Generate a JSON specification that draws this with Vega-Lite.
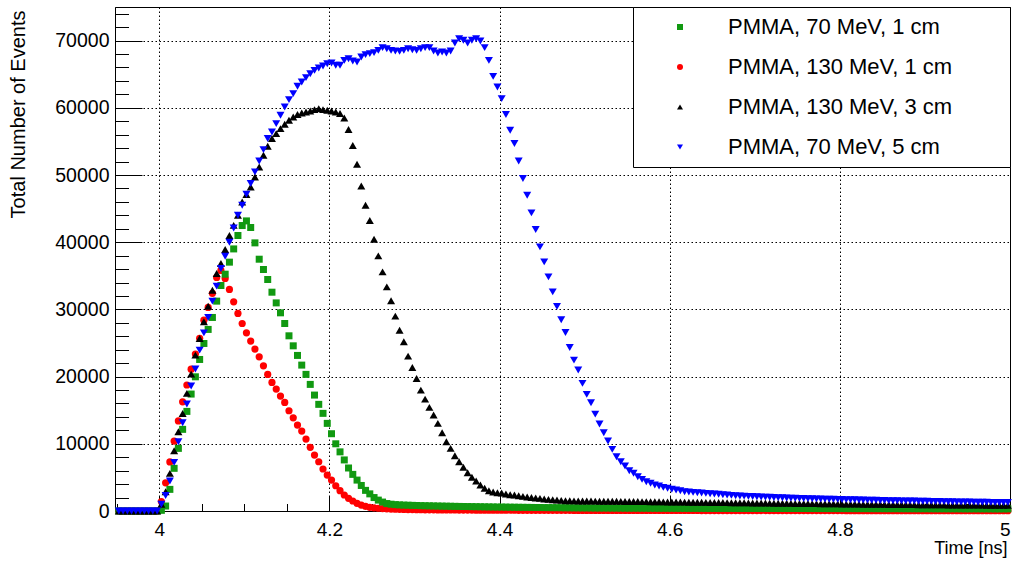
{
"$schema":"https://vega.github.io/schema/vega-lite/v6.json",
"width":895,"height":504,
"autosize":{"type":"none"},
"padding":{"left":115,"top":7,"right":3,"bottom":51},
"background":"white",
"config":{"view":{"stroke":"black","strokeWidth":1},
"axis":{"domainColor":"black","domainWidth":1,"tickColor":"black","tickWidth":1,"labelColor":"black","titleColor":"black","labelFont":"Liberation Sans","titleFont":"Liberation Sans","titleFontWeight":"normal","gridColor":"black","gridDash":[1.5,2.5],"gridOpacity":1,"gridWidth":1,"labelFlush":false,"labelOverlap":false}},
"resolve":{"axis":{"x":"independent","y":"independent"}},
"layer":[
{"data":{"values":[
{"t":3.9525,"v":0},{"t":3.9575,"v":0},{"t":3.9625,"v":0},{"t":3.9675,"v":0},{"t":3.9725,"v":0},{"t":3.9775,"v":0},{"t":3.9825,"v":0},{"t":3.9875,"v":0},{"t":3.9925,"v":0},{"t":3.9975,"v":0},
{"t":4.0025,"v":1400},{"t":4.0075,"v":4200},{"t":4.0125,"v":7300},{"t":4.0175,"v":10400},{"t":4.0225,"v":13400},{"t":4.0275,"v":16250},{"t":4.0325,"v":18750},{"t":4.0375,"v":21100},{"t":4.0425,"v":23350},{"t":4.0475,"v":25700},
{"t":4.0525,"v":28400},{"t":4.0575,"v":30300},{"t":4.0625,"v":32400},{"t":4.0675,"v":34750},{"t":4.0725,"v":35800},{"t":4.0775,"v":34600},{"t":4.0825,"v":32970},{"t":4.0875,"v":31120},{"t":4.0925,"v":29400},{"t":4.0975,"v":27900},
{"t":4.1025,"v":26520},{"t":4.1075,"v":25280},{"t":4.1125,"v":24090},{"t":4.1175,"v":22950},{"t":4.1225,"v":21610},{"t":4.1275,"v":20330},{"t":4.1325,"v":19140},{"t":4.1375,"v":18140},{"t":4.1425,"v":17100},{"t":4.1475,"v":16160},
{"t":4.1525,"v":14920},{"t":4.1575,"v":13870},{"t":4.1625,"v":12790},{"t":4.1675,"v":11900},{"t":4.1725,"v":10710},{"t":4.1775,"v":9470},{"t":4.1825,"v":8330},{"t":4.1875,"v":7330},{"t":4.1925,"v":6250},{"t":4.1975,"v":5350},
{"t":4.2025,"v":4610},{"t":4.2075,"v":3760},{"t":4.2125,"v":3020},{"t":4.2175,"v":2380},{"t":4.2225,"v":1890},{"t":4.2275,"v":1490},{"t":4.2325,"v":1150},{"t":4.2375,"v":890},{"t":4.2425,"v":700},{"t":4.2475,"v":550},
{"t":4.2525,"v":470},{"t":4.2575,"v":410},{"t":4.2625,"v":360},{"t":4.2675,"v":320},{"t":4.2725,"v":290},{"t":4.2775,"v":260},{"t":4.2825,"v":245},{"t":4.2875,"v":230},{"t":4.2925,"v":218},{"t":4.2975,"v":207},
{"t":4.3025,"v":198},{"t":4.3075,"v":190},{"t":4.3125,"v":183},{"t":4.3175,"v":176},{"t":4.3225,"v":170},{"t":4.3275,"v":165},{"t":4.3325,"v":160},{"t":4.3375,"v":155},{"t":4.3425,"v":150},{"t":4.3475,"v":146},
{"t":4.3525,"v":142},{"t":4.3575,"v":139},{"t":4.3625,"v":136},{"t":4.3675,"v":133},{"t":4.3725,"v":130},{"t":4.3775,"v":127},{"t":4.3825,"v":124},{"t":4.3875,"v":122},{"t":4.3925,"v":120},{"t":4.3975,"v":118},
{"t":4.4025,"v":116},{"t":4.4075,"v":114},{"t":4.4125,"v":112},{"t":4.4175,"v":110},{"t":4.4225,"v":108},{"t":4.4275,"v":107},{"t":4.4325,"v":105},{"t":4.4375,"v":104},{"t":4.4425,"v":102},{"t":4.4475,"v":101},
{"t":4.4525,"v":100},{"t":4.4575,"v":99},{"t":4.4625,"v":98},{"t":4.4675,"v":97},{"t":4.4725,"v":96},{"t":4.4775,"v":95},{"t":4.4825,"v":94},{"t":4.4875,"v":93},{"t":4.4925,"v":92},{"t":4.4975,"v":91},
{"t":4.5025,"v":90},{"t":4.5075,"v":89},{"t":4.5125,"v":88},{"t":4.5175,"v":88},{"t":4.5225,"v":87},{"t":4.5275,"v":86},{"t":4.5325,"v":85},{"t":4.5375,"v":85},{"t":4.5425,"v":84},{"t":4.5475,"v":83},
{"t":4.5525,"v":82},{"t":4.5575,"v":82},{"t":4.5625,"v":81},{"t":4.5675,"v":80},{"t":4.5725,"v":79},{"t":4.5775,"v":79},{"t":4.5825,"v":78},{"t":4.5875,"v":77},{"t":4.5925,"v":77},{"t":4.5975,"v":76},
{"t":4.6025,"v":75},{"t":4.6075,"v":75},{"t":4.6125,"v":74},{"t":4.6175,"v":73},{"t":4.6225,"v":73},{"t":4.6275,"v":72},{"t":4.6325,"v":72},{"t":4.6375,"v":71},{"t":4.6425,"v":70},{"t":4.6475,"v":70},
{"t":4.6525,"v":69},{"t":4.6575,"v":69},{"t":4.6625,"v":68},{"t":4.6675,"v":68},{"t":4.6725,"v":67},{"t":4.6775,"v":67},{"t":4.6825,"v":66},{"t":4.6875,"v":66},{"t":4.6925,"v":65},{"t":4.6975,"v":65},
{"t":4.7025,"v":64},{"t":4.7075,"v":64},{"t":4.7125,"v":63},{"t":4.7175,"v":63},{"t":4.7225,"v":62},{"t":4.7275,"v":62},{"t":4.7325,"v":61},{"t":4.7375,"v":61},{"t":4.7425,"v":60},{"t":4.7475,"v":60},
{"t":4.7525,"v":60},{"t":4.7575,"v":59},{"t":4.7625,"v":59},{"t":4.7675,"v":58},{"t":4.7725,"v":58},{"t":4.7775,"v":58},{"t":4.7825,"v":57},{"t":4.7875,"v":57},{"t":4.7925,"v":56},{"t":4.7975,"v":56},
{"t":4.8025,"v":56},{"t":4.8075,"v":55},{"t":4.8125,"v":55},{"t":4.8175,"v":55},{"t":4.8225,"v":54},{"t":4.8275,"v":54},{"t":4.8325,"v":54},{"t":4.8375,"v":53},{"t":4.8425,"v":53},{"t":4.8475,"v":53},
{"t":4.8525,"v":52},{"t":4.8575,"v":52},{"t":4.8625,"v":52},{"t":4.8675,"v":51},{"t":4.8725,"v":51},{"t":4.8775,"v":51},{"t":4.8825,"v":50},{"t":4.8875,"v":50},{"t":4.8925,"v":50},{"t":4.8975,"v":50},
{"t":4.9025,"v":49},{"t":4.9075,"v":49},{"t":4.9125,"v":49},{"t":4.9175,"v":48},{"t":4.9225,"v":48},{"t":4.9275,"v":48},{"t":4.9325,"v":48},{"t":4.9375,"v":47},{"t":4.9425,"v":47},{"t":4.9475,"v":47},
{"t":4.9525,"v":47},{"t":4.9575,"v":46},{"t":4.9625,"v":46},{"t":4.9675,"v":46},{"t":4.9725,"v":46},{"t":4.9775,"v":45},{"t":4.9825,"v":45},{"t":4.9875,"v":45},{"t":4.9925,"v":45},{"t":4.9975,"v":45}
]},
"mark":{"type":"point","filled":true,"size":52,"opacity":1,"strokeWidth":0},
"encoding":{
"x":{"field":"t","type":"quantitative","scale":{"domain":[3.948,5.0],"nice":false,"zero":false},
"axis":{"orient":"bottom","values":[4,4.2,4.4,4.6,4.8,5],"format":".1~f","tickSize":-15,"grid":true,"labelFlush":true,"labelFontSize":19,"labelPadding":24,"title":"Time [ns]","titleFontSize":18,"titleAnchor":"end","titleAlign":"right","titleBaseline":"middle","titleX":892,"titleY":37}},
"y":{"field":"v","type":"quantitative","scale":{"domain":[0,75000],"nice":false},
"axis":{"orient":"left","values":[0,10000,20000,30000,40000,50000,60000,70000],"format":"d","tickSize":-27,"grid":true,"labelFontSize":19.5,"labelPadding":33,"title":"Total Number of Events","titleFontSize":20,"titleAngle":270,"titleAnchor":"end","titleAlign":"right","titleBaseline":"middle","titleX":-97,"titleY":3}},
"color":{"datum":"PMMA, 130 MeV, 1 cm","type":"nominal","scale":{"domain":["PMMA, 70 MeV, 1 cm","PMMA, 130 MeV, 1 cm","PMMA, 130 MeV, 3 cm","PMMA, 70 MeV, 5 cm"],"range":["#119911","#ff0000","#000000","#0000ff"]},
"legend":{"orient":"none","legendX":518,"legendY":0,"title":"\u00a0","titleOrient":"right","titlePadding":49,"titleFontSize":22,"fillColor":"white","strokeColor":"black","padding":9,"rowPadding":18,"symbolSize":36,"symbolOffset":27,"labelOffset":37,"labelFont":"Liberation Sans","labelFontSize":22,"labelColor":"black","labelLimit":500}},
"shape":{"datum":"PMMA, 130 MeV, 1 cm","type":"nominal","scale":{"domain":["PMMA, 70 MeV, 1 cm","PMMA, 130 MeV, 1 cm","PMMA, 130 MeV, 3 cm","PMMA, 70 MeV, 5 cm"],"range":["square","circle","triangle-up","triangle-down"]},
"legend":{"orient":"none","legendX":518,"legendY":0,"title":"\u00a0","titleOrient":"right","titlePadding":49,"titleFontSize":22,"fillColor":"white","strokeColor":"black","padding":9,"rowPadding":18,"symbolSize":36,"symbolOffset":27,"labelOffset":37,"labelFont":"Liberation Sans","labelFontSize":22,"labelColor":"black","labelLimit":500}}
}},
{"data":{"values":[
{"t":3.9525,"v":0},{"t":3.9575,"v":0},{"t":3.9625,"v":0},{"t":3.9675,"v":0},{"t":3.9725,"v":0},{"t":3.9775,"v":0},{"t":3.9825,"v":0},{"t":3.9875,"v":0},{"t":3.9925,"v":0},{"t":3.9975,"v":0},
{"t":4.0025,"v":100},{"t":4.0075,"v":740},{"t":4.0125,"v":3220},{"t":4.0175,"v":6350},{"t":4.0225,"v":9320},{"t":4.0275,"v":12150},{"t":4.0325,"v":14820},{"t":4.0375,"v":17400},{"t":4.0425,"v":19970},{"t":4.0475,"v":22550},
{"t":4.0525,"v":24930},{"t":4.0575,"v":27020},{"t":4.0625,"v":28800},{"t":4.0675,"v":31230},{"t":4.0725,"v":33560},{"t":4.0775,"v":35240},{"t":4.0825,"v":37030},{"t":4.0875,"v":39000},{"t":4.0925,"v":41000},{"t":4.0975,"v":42480},
{"t":4.1025,"v":43170},{"t":4.1075,"v":42190},{"t":4.1125,"v":39900},{"t":4.1175,"v":37470},{"t":4.1225,"v":35940},{"t":4.1275,"v":34450},{"t":4.1325,"v":32560},{"t":4.1375,"v":30970},{"t":4.1425,"v":29490},{"t":4.1475,"v":27900},
{"t":4.1525,"v":26070},{"t":4.1575,"v":24580},{"t":4.1625,"v":23150},{"t":4.1675,"v":21710},{"t":4.1725,"v":20330},{"t":4.1775,"v":18840},{"t":4.1825,"v":17250},{"t":4.1875,"v":15870},{"t":4.1925,"v":14530},{"t":4.1975,"v":13040},
{"t":4.2025,"v":11500},{"t":4.2075,"v":10000},{"t":4.2125,"v":8800},{"t":4.2175,"v":7600},{"t":4.2225,"v":6400},{"t":4.2275,"v":5450},{"t":4.2325,"v":4600},{"t":4.2375,"v":3800},{"t":4.2425,"v":3070},{"t":4.2475,"v":2550},
{"t":4.2525,"v":2000},{"t":4.2575,"v":1620},{"t":4.2625,"v":1330},{"t":4.2675,"v":1110},{"t":4.2725,"v":1010},{"t":4.2775,"v":950},{"t":4.2825,"v":910},{"t":4.2875,"v":880},{"t":4.2925,"v":860},{"t":4.2975,"v":840},
{"t":4.3025,"v":820},{"t":4.3075,"v":800},{"t":4.3125,"v":785},{"t":4.3175,"v":770},{"t":4.3225,"v":755},{"t":4.3275,"v":740},{"t":4.3325,"v":728},{"t":4.3375,"v":716},{"t":4.3425,"v":704},{"t":4.3475,"v":692},
{"t":4.3525,"v":680},{"t":4.3575,"v":670},{"t":4.3625,"v":660},{"t":4.3675,"v":650},{"t":4.3725,"v":640},{"t":4.3775,"v":630},{"t":4.3825,"v":620},{"t":4.3875,"v":610},{"t":4.3925,"v":600},{"t":4.3975,"v":592},
{"t":4.4025,"v":584},{"t":4.4075,"v":576},{"t":4.4125,"v":568},{"t":4.4175,"v":560},{"t":4.4225,"v":552},{"t":4.4275,"v":545},{"t":4.4325,"v":538},{"t":4.4375,"v":531},{"t":4.4425,"v":524},{"t":4.4475,"v":518},
{"t":4.4525,"v":512},{"t":4.4575,"v":506},{"t":4.4625,"v":500},{"t":4.4675,"v":495},{"t":4.4725,"v":490},{"t":4.4775,"v":485},{"t":4.4825,"v":480},{"t":4.4875,"v":475},{"t":4.4925,"v":470},{"t":4.4975,"v":466},
{"t":4.5025,"v":462},{"t":4.5075,"v":458},{"t":4.5125,"v":455},{"t":4.5175,"v":452},{"t":4.5225,"v":449},{"t":4.5275,"v":446},{"t":4.5325,"v":443},{"t":4.5375,"v":440},{"t":4.5425,"v":437},{"t":4.5475,"v":434},
{"t":4.5525,"v":431},{"t":4.5575,"v":428},{"t":4.5625,"v":426},{"t":4.5675,"v":424},{"t":4.5725,"v":422},{"t":4.5775,"v":420},{"t":4.5825,"v":418},{"t":4.5875,"v":416},{"t":4.5925,"v":414},{"t":4.5975,"v":412},
{"t":4.6025,"v":410},{"t":4.6075,"v":408},{"t":4.6125,"v":406},{"t":4.6175,"v":404},{"t":4.6225,"v":402},{"t":4.6275,"v":400},{"t":4.6325,"v":398},{"t":4.6375,"v":396},{"t":4.6425,"v":394},{"t":4.6475,"v":392},
{"t":4.6525,"v":390},{"t":4.6575,"v":388},{"t":4.6625,"v":387},{"t":4.6675,"v":386},{"t":4.6725,"v":385},{"t":4.6775,"v":384},{"t":4.6825,"v":383},{"t":4.6875,"v":382},{"t":4.6925,"v":381},{"t":4.6975,"v":380},
{"t":4.7025,"v":379},{"t":4.7075,"v":378},{"t":4.7125,"v":377},{"t":4.7175,"v":376},{"t":4.7225,"v":375},{"t":4.7275,"v":374},{"t":4.7325,"v":373},{"t":4.7375,"v":372},{"t":4.7425,"v":371},{"t":4.7475,"v":370},
{"t":4.7525,"v":369},{"t":4.7575,"v":368},{"t":4.7625,"v":367},{"t":4.7675,"v":366},{"t":4.7725,"v":365},{"t":4.7775,"v":364},{"t":4.7825,"v":363},{"t":4.7875,"v":362},{"t":4.7925,"v":361},{"t":4.7975,"v":360},
{"t":4.8025,"v":359},{"t":4.8075,"v":358},{"t":4.8125,"v":357},{"t":4.8175,"v":356},{"t":4.8225,"v":355},{"t":4.8275,"v":354},{"t":4.8325,"v":353},{"t":4.8375,"v":352},{"t":4.8425,"v":351},{"t":4.8475,"v":350},
{"t":4.8525,"v":349},{"t":4.8575,"v":348},{"t":4.8625,"v":347},{"t":4.8675,"v":346},{"t":4.8725,"v":345},{"t":4.8775,"v":344},{"t":4.8825,"v":343},{"t":4.8875,"v":342},{"t":4.8925,"v":341},{"t":4.8975,"v":340},
{"t":4.9025,"v":339},{"t":4.9075,"v":338},{"t":4.9125,"v":337},{"t":4.9175,"v":336},{"t":4.9225,"v":335},{"t":4.9275,"v":334},{"t":4.9325,"v":333},{"t":4.9375,"v":332},{"t":4.9425,"v":331},{"t":4.9475,"v":330},
{"t":4.9525,"v":329},{"t":4.9575,"v":328},{"t":4.9625,"v":327},{"t":4.9675,"v":326},{"t":4.9725,"v":325},{"t":4.9775,"v":324},{"t":4.9825,"v":323},{"t":4.9875,"v":322},{"t":4.9925,"v":321},{"t":4.9975,"v":320}
]},
"mark":{"type":"point","filled":true,"size":49,"opacity":1,"strokeWidth":0},
"encoding":{
"x":{"field":"t","type":"quantitative","axis":null},
"y":{"field":"v","type":"quantitative","axis":null},
"color":{"datum":"PMMA, 70 MeV, 1 cm","type":"nominal"},
"shape":{"datum":"PMMA, 70 MeV, 1 cm","type":"nominal"}
}},
{"data":{"values":[
{"t":3.9525,"v":0},{"t":3.9575,"v":0},{"t":3.9625,"v":0},{"t":3.9675,"v":0},{"t":3.9725,"v":0},{"t":3.9775,"v":0},{"t":3.9825,"v":0},{"t":3.9875,"v":0},{"t":3.9925,"v":0},{"t":3.9975,"v":0},
{"t":4.0025,"v":1000},{"t":4.0075,"v":2870},{"t":4.0125,"v":5600},{"t":4.0175,"v":8970},{"t":4.0225,"v":11800},{"t":4.0275,"v":14520},{"t":4.0325,"v":17500},{"t":4.0375,"v":20370},{"t":4.0425,"v":23200},{"t":4.0475,"v":25680},
{"t":4.0525,"v":28150},{"t":4.0575,"v":30480},{"t":4.0625,"v":32860},{"t":4.0675,"v":35350},{"t":4.0725,"v":36830},{"t":4.0775,"v":38910},{"t":4.0825,"v":41000},{"t":4.0875,"v":42500},{"t":4.0925,"v":44000},{"t":4.0975,"v":45990},
{"t":4.1025,"v":47100},{"t":4.1075,"v":48220},{"t":4.1125,"v":49710},{"t":4.1175,"v":51200},{"t":4.1225,"v":52940},{"t":4.1275,"v":54280},{"t":4.1325,"v":55420},{"t":4.1375,"v":56160},{"t":4.1425,"v":56900},{"t":4.1475,"v":57550},
{"t":4.1525,"v":58140},{"t":4.1575,"v":58630},{"t":4.1625,"v":58990},{"t":4.1675,"v":59220},{"t":4.1725,"v":59370},{"t":4.1775,"v":59520},{"t":4.1825,"v":59730},{"t":4.1875,"v":59880},{"t":4.1925,"v":59730},{"t":4.1975,"v":59630},
{"t":4.2025,"v":59520},{"t":4.2075,"v":59370},{"t":4.2125,"v":59140},{"t":4.2175,"v":58480},{"t":4.2225,"v":56760},{"t":4.2275,"v":54380},{"t":4.2325,"v":51600},{"t":4.2375,"v":48370},{"t":4.2425,"v":45500},{"t":4.2475,"v":43230},
{"t":4.2525,"v":40450},{"t":4.2575,"v":37960},{"t":4.2625,"v":35580},{"t":4.2675,"v":33350},{"t":4.2725,"v":31300},{"t":4.2775,"v":29000},{"t":4.2825,"v":26910},{"t":4.2875,"v":25180},{"t":4.2925,"v":23050},{"t":4.2975,"v":21360},
{"t":4.3025,"v":19730},{"t":4.3075,"v":17990},{"t":4.3125,"v":16650},{"t":4.3175,"v":15420},{"t":4.3225,"v":14280},{"t":4.3275,"v":13040},{"t":4.3325,"v":11640},{"t":4.3375,"v":10310},{"t":4.3425,"v":9320},{"t":4.3475,"v":8220},
{"t":4.3525,"v":7330},{"t":4.3575,"v":6500},{"t":4.3625,"v":5700},{"t":4.3675,"v":5010},{"t":4.3725,"v":4460},{"t":4.3775,"v":3870},{"t":4.3825,"v":3380},{"t":4.3875,"v":3020},{"t":4.3925,"v":2830},{"t":4.3975,"v":2720},
{"t":4.4025,"v":2680},{"t":4.4075,"v":2530},{"t":4.4125,"v":2430},{"t":4.4175,"v":2380},{"t":4.4225,"v":2280},{"t":4.4275,"v":2180},{"t":4.4325,"v":2080},{"t":4.4375,"v":2000},{"t":4.4425,"v":1930},{"t":4.4475,"v":1880},
{"t":4.4525,"v":1780},{"t":4.4575,"v":1730},{"t":4.4625,"v":1680},{"t":4.4675,"v":1630},{"t":4.4725,"v":1580},{"t":4.4775,"v":1530},{"t":4.4825,"v":1515},{"t":4.4875,"v":1505},{"t":4.4925,"v":1495},{"t":4.4975,"v":1490},
{"t":4.5025,"v":1480},{"t":4.5075,"v":1475},{"t":4.5125,"v":1470},{"t":4.5175,"v":1462},{"t":4.5225,"v":1455},{"t":4.5275,"v":1450},{"t":4.5325,"v":1445},{"t":4.5375,"v":1440},{"t":4.5425,"v":1432},{"t":4.5475,"v":1425},
{"t":4.5525,"v":1420},{"t":4.5575,"v":1412},{"t":4.5625,"v":1405},{"t":4.5675,"v":1398},{"t":4.5725,"v":1390},{"t":4.5775,"v":1382},{"t":4.5825,"v":1375},{"t":4.5875,"v":1368},{"t":4.5925,"v":1360},{"t":4.5975,"v":1352},
{"t":4.6025,"v":1345},{"t":4.6075,"v":1338},{"t":4.6125,"v":1330},{"t":4.6175,"v":1322},{"t":4.6225,"v":1315},{"t":4.6275,"v":1308},{"t":4.6325,"v":1300},{"t":4.6375,"v":1292},{"t":4.6425,"v":1285},{"t":4.6475,"v":1278},
{"t":4.6525,"v":1270},{"t":4.6575,"v":1262},{"t":4.6625,"v":1255},{"t":4.6675,"v":1248},{"t":4.6725,"v":1240},{"t":4.6775,"v":1232},{"t":4.6825,"v":1225},{"t":4.6875,"v":1218},{"t":4.6925,"v":1210},{"t":4.6975,"v":1202},
{"t":4.7025,"v":1195},{"t":4.7075,"v":1188},{"t":4.7125,"v":1180},{"t":4.7175,"v":1172},{"t":4.7225,"v":1165},{"t":4.7275,"v":1158},{"t":4.7325,"v":1150},{"t":4.7375,"v":1143},{"t":4.7425,"v":1136},{"t":4.7475,"v":1129},
{"t":4.7525,"v":1122},{"t":4.7575,"v":1115},{"t":4.7625,"v":1108},{"t":4.7675,"v":1101},{"t":4.7725,"v":1094},{"t":4.7775,"v":1087},{"t":4.7825,"v":1080},{"t":4.7875,"v":1073},{"t":4.7925,"v":1066},{"t":4.7975,"v":1059},
{"t":4.8025,"v":1052},{"t":4.8075,"v":1045},{"t":4.8125,"v":1038},{"t":4.8175,"v":1031},{"t":4.8225,"v":1024},{"t":4.8275,"v":1017},{"t":4.8325,"v":1010},{"t":4.8375,"v":1004},{"t":4.8425,"v":998},{"t":4.8475,"v":992},
{"t":4.8525,"v":986},{"t":4.8575,"v":980},{"t":4.8625,"v":974},{"t":4.8675,"v":968},{"t":4.8725,"v":962},{"t":4.8775,"v":956},{"t":4.8825,"v":950},{"t":4.8875,"v":945},{"t":4.8925,"v":940},{"t":4.8975,"v":935},
{"t":4.9025,"v":930},{"t":4.9075,"v":925},{"t":4.9125,"v":920},{"t":4.9175,"v":915},{"t":4.9225,"v":910},{"t":4.9275,"v":905},{"t":4.9325,"v":900},{"t":4.9375,"v":896},{"t":4.9425,"v":892},{"t":4.9475,"v":888},
{"t":4.9525,"v":884},{"t":4.9575,"v":880},{"t":4.9625,"v":876},{"t":4.9675,"v":872},{"t":4.9725,"v":868},{"t":4.9775,"v":864},{"t":4.9825,"v":860},{"t":4.9875,"v":856},{"t":4.9925,"v":852},{"t":4.9975,"v":848}
]},
"mark":{"type":"point","filled":true,"size":64,"opacity":1,"strokeWidth":0},
"encoding":{
"x":{"field":"t","type":"quantitative","axis":null},
"y":{"field":"v","type":"quantitative","axis":null},
"color":{"datum":"PMMA, 130 MeV, 3 cm","type":"nominal"},
"shape":{"datum":"PMMA, 130 MeV, 3 cm","type":"nominal"}
}},
{"data":{"values":[
{"t":3.9525,"v":0},{"t":3.9575,"v":0},{"t":3.9625,"v":0},{"t":3.9675,"v":0},{"t":3.9725,"v":0},{"t":3.9775,"v":0},{"t":3.9825,"v":0},{"t":3.9875,"v":0},{"t":3.9925,"v":0},{"t":3.9975,"v":0},
{"t":4.0025,"v":1000},{"t":4.0075,"v":2300},{"t":4.0125,"v":4460},{"t":4.0175,"v":7240},{"t":4.0225,"v":10310},{"t":4.0275,"v":13130},{"t":4.0325,"v":15910},{"t":4.0375,"v":18590},{"t":4.0425,"v":21120},{"t":4.0475,"v":23940},
{"t":4.0525,"v":26510},{"t":4.0575,"v":28800},{"t":4.0625,"v":31230},{"t":4.0675,"v":33460},{"t":4.0725,"v":36090},{"t":4.0775,"v":37920},{"t":4.0825,"v":40000},{"t":4.0875,"v":42100},{"t":4.0925,"v":44000},{"t":4.0975,"v":45500},
{"t":4.1025,"v":47140},{"t":4.1075,"v":48730},{"t":4.1125,"v":50460},{"t":4.1175,"v":52090},{"t":4.1225,"v":53780},{"t":4.1275,"v":55420},{"t":4.1325,"v":56400},{"t":4.1375,"v":57650},{"t":4.1425,"v":58890},{"t":4.1475,"v":60120},
{"t":4.1525,"v":61220},{"t":4.1575,"v":62110},{"t":4.1625,"v":63200},{"t":4.1675,"v":63840},{"t":4.1725,"v":64490},{"t":4.1775,"v":65080},{"t":4.1825,"v":65570},{"t":4.1875,"v":65920},{"t":4.1925,"v":66220},{"t":4.1975,"v":66560},
{"t":4.2025,"v":66660},{"t":4.2075,"v":66320},{"t":4.2125,"v":66320},{"t":4.2175,"v":67060},{"t":4.2225,"v":67310},{"t":4.2275,"v":66960},{"t":4.2325,"v":66810},{"t":4.2375,"v":67560},{"t":4.2425,"v":67910},{"t":4.2475,"v":68060},
{"t":4.2525,"v":68210},{"t":4.2575,"v":68550},{"t":4.2625,"v":68950},{"t":4.2675,"v":68800},{"t":4.2725,"v":68550},{"t":4.2775,"v":68450},{"t":4.2825,"v":68400},{"t":4.2875,"v":68550},{"t":4.2925,"v":68800},{"t":4.2975,"v":68650},
{"t":4.3025,"v":68550},{"t":4.3075,"v":68800},{"t":4.3125,"v":68950},{"t":4.3175,"v":68950},{"t":4.3225,"v":68450},{"t":4.3275,"v":68150},{"t":4.3325,"v":68300},{"t":4.3375,"v":68150},{"t":4.3425,"v":68450},{"t":4.3475,"v":69640},
{"t":4.3525,"v":70280},{"t":4.3575,"v":70040},{"t":4.3625,"v":69640},{"t":4.3675,"v":70040},{"t":4.3725,"v":70280},{"t":4.3775,"v":69930},{"t":4.3825,"v":68950},{"t":4.3875,"v":67060},{"t":4.3925,"v":64680},{"t":4.3975,"v":63090},
{"t":4.4025,"v":61370},{"t":4.4075,"v":58990},{"t":4.4125,"v":56650},{"t":4.4175,"v":54680},{"t":4.4225,"v":52090},{"t":4.4275,"v":49470},{"t":4.4325,"v":46990},{"t":4.4375,"v":44360},{"t":4.4425,"v":41890},{"t":4.4475,"v":39300},
{"t":4.4525,"v":37070},{"t":4.4575,"v":34840},{"t":4.4625,"v":32610},{"t":4.4675,"v":30450},{"t":4.4725,"v":28450},{"t":4.4775,"v":26570},{"t":4.4825,"v":24340},{"t":4.4875,"v":22450},{"t":4.4925,"v":20970},{"t":4.4975,"v":18990},
{"t":4.5025,"v":17350},{"t":4.5075,"v":16100},{"t":4.5125,"v":14420},{"t":4.5175,"v":12940},{"t":4.5225,"v":11640},{"t":4.5275,"v":10410},{"t":4.5325,"v":9170},{"t":4.5375,"v":8070},{"t":4.5425,"v":7330},{"t":4.5475,"v":6690},
{"t":4.5525,"v":5990},{"t":4.5575,"v":5610},{"t":4.5625,"v":5100},{"t":4.5675,"v":4710},{"t":4.5725,"v":4360},{"t":4.5775,"v":4120},{"t":4.5825,"v":3870},{"t":4.5875,"v":3720},{"t":4.5925,"v":3520},{"t":4.5975,"v":3380},
{"t":4.6025,"v":3230},{"t":4.6075,"v":3120},{"t":4.6125,"v":3020},{"t":4.6175,"v":2870},{"t":4.6225,"v":2820},{"t":4.6275,"v":2770},{"t":4.6325,"v":2720},{"t":4.6375,"v":2670},{"t":4.6425,"v":2620},{"t":4.6475,"v":2580},
{"t":4.6525,"v":2530},{"t":4.6575,"v":2480},{"t":4.6625,"v":2430},{"t":4.6675,"v":2380},{"t":4.6725,"v":2330},{"t":4.6775,"v":2280},{"t":4.6825,"v":2240},{"t":4.6875,"v":2210},{"t":4.6925,"v":2180},{"t":4.6975,"v":2150},
{"t":4.7025,"v":2120},{"t":4.7075,"v":2090},{"t":4.7125,"v":2065},{"t":4.7175,"v":2040},{"t":4.7225,"v":2015},{"t":4.7275,"v":1990},{"t":4.7325,"v":1965},{"t":4.7375,"v":1940},{"t":4.7425,"v":1920},{"t":4.7475,"v":1900},
{"t":4.7525,"v":1880},{"t":4.7575,"v":1860},{"t":4.7625,"v":1840},{"t":4.7675,"v":1820},{"t":4.7725,"v":1800},{"t":4.7775,"v":1785},{"t":4.7825,"v":1770},{"t":4.7875,"v":1755},{"t":4.7925,"v":1740},{"t":4.7975,"v":1725},
{"t":4.8025,"v":1710},{"t":4.8075,"v":1695},{"t":4.8125,"v":1680},{"t":4.8175,"v":1665},{"t":4.8225,"v":1650},{"t":4.8275,"v":1635},{"t":4.8325,"v":1620},{"t":4.8375,"v":1605},{"t":4.8425,"v":1590},{"t":4.8475,"v":1575},
{"t":4.8525,"v":1560},{"t":4.8575,"v":1548},{"t":4.8625,"v":1536},{"t":4.8675,"v":1524},{"t":4.8725,"v":1512},{"t":4.8775,"v":1500},{"t":4.8825,"v":1488},{"t":4.8875,"v":1476},{"t":4.8925,"v":1464},{"t":4.8975,"v":1452},
{"t":4.9025,"v":1440},{"t":4.9075,"v":1428},{"t":4.9125,"v":1416},{"t":4.9175,"v":1404},{"t":4.9225,"v":1392},{"t":4.9275,"v":1380},{"t":4.9325,"v":1370},{"t":4.9375,"v":1360},{"t":4.9425,"v":1350},{"t":4.9475,"v":1340},
{"t":4.9525,"v":1330},{"t":4.9575,"v":1320},{"t":4.9625,"v":1310},{"t":4.9675,"v":1300},{"t":4.9725,"v":1292},{"t":4.9775,"v":1284},{"t":4.9825,"v":1276},{"t":4.9875,"v":1268},{"t":4.9925,"v":1260},{"t":4.9975,"v":1252}
]},
"mark":{"type":"point","filled":true,"size":64,"opacity":1,"strokeWidth":0},
"encoding":{
"x":{"field":"t","type":"quantitative","axis":null},
"y":{"field":"v","type":"quantitative","axis":null},
"color":{"datum":"PMMA, 70 MeV, 5 cm","type":"nominal"},
"shape":{"datum":"PMMA, 70 MeV, 5 cm","type":"nominal"}
}},
{"data":{"values":[{"t":4.5,"v":0}]},
"mark":{"type":"point","opacity":0},
"encoding":{
"x":{"field":"t","type":"quantitative","axis":{"orient":"bottom","values":[3.95,4.05,4.1,4.15,4.25,4.3,4.35,4.45,4.5,4.55,4.65,4.7,4.75,4.85,4.9,4.95],"tickSize":-7.5,"labels":false,"domain":false,"grid":false,"title":null}},
"y":{"field":"v","type":"quantitative","axis":{"orient":"left","values":[2000,4000,6000,8000,12000,14000,16000,18000,22000,24000,26000,28000,32000,34000,36000,38000,42000,44000,46000,48000,52000,54000,56000,58000,62000,64000,66000,68000,72000,74000],"tickSize":-13.5,"labels":false,"domain":false,"grid":false,"title":null}}
}}
]
}
